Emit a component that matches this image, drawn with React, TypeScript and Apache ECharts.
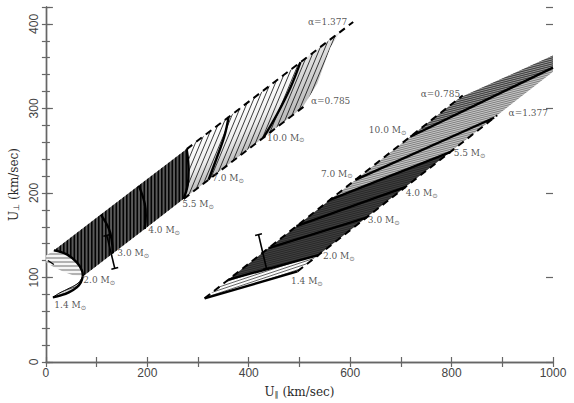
import React, { useEffect, useRef } from "react";
import * as echarts from "echarts";

// ---------- axes ----------
const X_RANGE = [0, 1000];
const Y_RANGE = [0, 420];
const X_LABEL_STEP = 200;
const Y_LABEL_STEP = 100;

// ---------- left track family [U_par, U_perp] ----------
const lEdge1377 = [[15.7, 132.0], [108.3, 174.4], [183.1, 208.7], [277.6, 251.9], [360.2, 289.8], [502.0, 354.7], [580.7, 390.9]];
const lEdge0785 = [[72.8, 101.3], [131.9, 128.5], [194.9, 157.5], [271.7, 193.0], [320.9, 215.6], [429.1, 265.5], [505.9, 300.9]];
const lTip = [[580.7, 390.9], [561.0, 372.0], [535.4, 329.4], [507.9, 303.0], [505.9, 300.9]];
const lCurlEdge = [[72.8, 101.3], [53.1, 102.5], [33.5, 107.2], [13.8, 113.1], [0.5, 117.8], [0.5, 126.1], [15.7, 132.0]];
const lM14 = [[72.8, 101.3], [68.9, 94.2], [61.0, 88.3], [45.3, 82.4], [29.5, 78.8], [13.8, 76.5]];
const lM14Inner = [[13.8, 76.5], [25.6, 81.2], [41.3, 85.9], [57.1, 90.7], [65.0, 94.2], [72.8, 101.3]];
const lM20 = [[15.7, 132.0], [41.3, 127.3], [61.0, 117.8], [70.9, 108.4], [72.8, 101.3]];
const lM30 = [[108.3, 174.4], [124.0, 158.0], [129.9, 143.9], [131.9, 128.5]];
const lM40 = [[183.1, 208.7], [194.9, 187.6], [196.9, 173.4], [194.9, 157.5]];
const lM55 = [[277.6, 251.9], [281.5, 226.6], [279.5, 208.9], [271.7, 193.0]];
const lM70 = [[360.2, 289.8], [352.4, 268.0], [338.6, 244.3], [320.9, 215.6]];
const lM100 = [[502.0, 354.7], [482.3, 324.7], [456.7, 294.0], [429.1, 265.5]];
const lDash1377 = [[277.6, 251.9], [606.0, 402.3]];
const lDash0785 = [[271.7, 193.0], [515.0, 305.1]];
const lErr = [[120.1, 149.8], [135.8, 110.8]];
const lTick = [[3.9, 120.1], [15.7, 115.4]];

// ---------- right track family ----------
const rEdge0785 = [[313.0, 75.3], [360.2, 97.5], [439.0, 134.7], [494.1, 160.7], [561.0, 192.2], [610.2, 215.4], [718.5, 266.5], [816.9, 312.9]];
const rEdge1377 = [[496.1, 107.2], [537.4, 126.5], [631.9, 170.9], [708.7, 206.9], [797.2, 248.4], [883.9, 289.0], [1000, 343.5]];
const rTop = [[816.9, 312.9], [1000, 362.5]];
const rM14 = [[313.0, 75.3], [496.1, 107.2]];
const rM20 = [[360.2, 97.5], [537.4, 126.5]];
const rM30 = [[439.0, 134.7], [631.9, 170.9]];
const rM40 = [[494.1, 160.7], [708.7, 206.9]];
const rM55 = [[561.0, 192.2], [797.2, 248.4]];
const rM70 = [[610.2, 215.4], [883.9, 289.0]];
const rM100 = [[718.5, 266.5], [1000, 348.3]];
const rDash0785 = [[313.0, 75.3], [822.0, 315.3]];
const rDash1377 = [[496.1, 107.2], [890.0, 291.9]];
const rErr = [[419.3, 150.7], [435.0, 110.6]];

// ---------- labels [text, U_par, U_perp] ----------
const labelsLeft = [
  ["α=1.377", 515.7, 401.9], ["α=0.785", 521.7, 308.9],
  ["10.0", 435.0, 265.6], ["7.0", 326.8, 217.1], ["5.5", 267.7, 186.4],
  ["4.0", 200.8, 155.7], ["3.0", 139.8, 128.5], ["2.0", 72.8, 96.6], ["1.4", 15.7, 67.0],
];
const labelsRight = [
  ["α=0.785", 738.2, 317.5], ["α=1.377", 911.4, 295.0],
  ["10.0", 635.8, 273.9], ["7.0", 541.3, 223.0], ["5.5", 803.1, 246.7],
  ["4.0", 708.7, 199.4], ["3.0", 633.9, 167.5], ["2.0", 545.3, 124.9], ["1.4", 482.3, 95.4],
];

const SANS = "'Liberation Sans', Arial, sans-serif";
const SERIF = "'DejaVu Serif', serif";
const AX = "#666";

const rev = (a: number[][]) => [...a].reverse();
const between = (edge: number[][], x0: number, x1: number) =>
  edge.filter((p) => p[0] >= x0 - 1e-6 && p[0] <= x1 + 1e-6);

function makeHatch(w: number, h: number, segs: number[][], lw: number, color: string) {
  const c = document.createElement("canvas");
  c.width = w;
  c.height = h;
  const ctx = c.getContext("2d")!;
  ctx.strokeStyle = color;
  ctx.lineWidth = lw;
  ctx.beginPath();
  for (const [x1, y1, x2, y2] of segs) {
    ctx.moveTo(x1, y1);
    ctx.lineTo(x2, y2);
  }
  ctx.stroke();
  return { image: c, repeat: "repeat", imageWidth: w, imageHeight: h };
}

function polySeries(points: number[][], fill: any, z: number, grad?: { from: number[]; to: number[]; stops: any[] }) {
  return {
    type: "custom",
    coordinateSystem: "cartesian2d",
    silent: true,
    clip: true,
    z,
    data: [[points[0][0], points[0][1]]],
    renderItem: (_p: any, api: any) => {
      const pts = points.map((p) => api.coord(p));
      let f: any = fill;
      if (grad) {
        const a = api.coord(grad.from);
        const b = api.coord(grad.to);
        f = new echarts.graphic.LinearGradient(a[0], a[1], b[0], b[1], grad.stops, true);
      }
      return { type: "polygon", shape: { points: pts }, style: { fill: f, stroke: null } };
    },
  };
}

function lineSeries(points: number[][], width: number, z: number, dashed = false, smooth: number | boolean = false) {
  return {
    type: "line",
    data: points,
    symbol: "none",
    silent: true,
    smooth,
    z,
    clip: true,
    lineStyle: { color: "#000", width, type: dashed ? [7, 5] : "solid", cap: "butt" },
  };
}

function errSeries(seg: number[][], z: number) {
  return {
    type: "custom",
    coordinateSystem: "cartesian2d",
    silent: true,
    z,
    data: [[seg[0][0], seg[0][1]]],
    renderItem: (_p: any, api: any) => {
      const a = api.coord(seg[0]);
      const b = api.coord(seg[1]);
      const dx = b[0] - a[0], dy = b[1] - a[1];
      const L = Math.hypot(dx, dy) || 1;
      const nx = (-dy / L) * 3.5, ny = (dx / L) * 3.5;
      const st = { stroke: "#000", lineWidth: 1.6 };
      return {
        type: "group",
        children: [
          { type: "line", shape: { x1: a[0], y1: a[1], x2: b[0], y2: b[1] }, style: st },
          { type: "line", shape: { x1: a[0] - nx, y1: a[1] - ny, x2: a[0] + nx, y2: a[1] + ny }, style: st },
          { type: "line", shape: { x1: b[0] - nx, y1: b[1] - ny, x2: b[0] + nx, y2: b[1] + ny }, style: st },
        ],
      };
    },
  };
}

function labelSeries(labels: any[]) {
  return {
    type: "scatter",
    symbolSize: 1,
    silent: true,
    z: 30,
    itemStyle: { color: "rgba(0,0,0,0)" },
    data: labels.map(([t, x, y]) => ({ value: [x, y], name: t })),
    label: {
      show: true,
      position: "right",
      distance: 0,
      formatter: (p: any) => (String(p.name).startsWith("α") ? `{m|${p.name}}` : `{m|${p.name} M}{s|⊙}`),
      rich: {
        m: { fontFamily: SERIF, fontSize: 9, color: "#2a2a2a", lineHeight: 12 },
        s: { fontFamily: "'DejaVu Sans', sans-serif", fontSize: 6.5, color: "#2a2a2a", lineHeight: 8, verticalAlign: "bottom" },
      },
    },
  };
}

function buildOption() {
  const leftDark = [...between(lEdge1377, 15.7, 277.6), ...lM55, ...rev(between(lEdge0785, 72.8, 271.7)), ...rev(lM20)];
  const leftLightA = [...between(lEdge1377, 277.6, 502.0), ...lM100, ...rev(between(lEdge0785, 271.7, 429.1)), ...rev(lM55)];
  const leftLightB = [...between(lEdge1377, 502.0, 580.7), ...lTip, ...rev(between(lEdge0785, 429.1, 505.9)), ...rev(lM100)];
  const leftCurl = [...lM20, ...lCurlEdge];
  const leftCrescent = [...lM14, ...lM14Inner];

  const rightWhite = [...rM14, ...between(rEdge1377, 496.1, 537.4), ...rev(rM20), ...rev(between(rEdge0785, 313.0, 360.2))];
  const rightDark = [...rM20, ...between(rEdge1377, 537.4, 797.2), ...rev(rM55), ...rev(between(rEdge0785, 360.2, 561.0))];
  const rightLight = [...rM55, ...between(rEdge1377, 797.2, 1000), ...rev(rTop), ...rev(between(rEdge0785, 561.0, 816.9))];
  const rightStrip = [...rM100, ...rev(rTop), ...rev(between(rEdge0785, 718.5, 816.9))];

  // hatching textures (style only)
  const hatchVert = makeHatch(7, 4, [[0.8, -1, 0.8, 5], [4.3, -1, 4.3, 5]], 1.6, "rgba(0,0,0,0.95)");
  const hatchLeftLight = makeHatch(5, 12, [[5, 0, 0, 12], [10, 0, 5, 12], [0, 0, -5, 12]], 0.9, "rgba(0,0,0,0.85)");
  const hatchRight = makeHatch(9, 3, [[0, 3, 9, 0], [0, 6, 9, 3], [0, 0, 9, -3]], 0.8, "rgba(0,0,0,0.75)");
  const hatchRightFine = makeHatch(8, 2, [[0, 2, 8, 0], [0, 4, 8, 2], [0, 0, 8, -2]], 0.7, "rgba(0,0,0,0.55)");
  const hatchHoriz = makeHatch(4, 4, [[-1, 2, 5, 2]], 0.8, "rgba(0,0,0,0.7)");

  const xAxisBase = {
    type: "value",
    min: X_RANGE[0],
    max: X_RANGE[1],
    interval: X_LABEL_STEP / 2,
    axisLine: { show: true, lineStyle: { color: AX, width: 1.4 } },
    axisTick: { show: true, inside: true, length: 5, lineStyle: { color: AX, width: 1.2 } },
    splitLine: { show: false },
  };
  const yAxisBase = {
    type: "value",
    min: Y_RANGE[0],
    max: Y_RANGE[1],
    interval: 20,
    axisLine: { show: true, lineStyle: { color: AX, width: 1.4 } },
    axisTick: { show: true, inside: true, length: 4, lineStyle: { color: AX, width: 1.2 } },
    splitLine: { show: false },
  };
  const yMajor = {
    type: "value",
    min: Y_RANGE[0],
    max: Y_RANGE[1],
    interval: Y_LABEL_STEP,
    axisLine: { show: false },
    axisTick: { show: true, inside: true, length: 7, lineStyle: { color: AX, width: 1.2 } },
    axisLabel: { show: false },
    splitLine: { show: false },
  };
  const subRich = { s: { fontFamily: "'DejaVu Sans', sans-serif", fontSize: 8, verticalAlign: "bottom", lineHeight: 10, color: "#2a2a2a" } };

  return {
    animation: false,
    backgroundColor: "#fff",
    grid: { left: 45, right: 21, top: 7, bottom: 41 },
    xAxis: [
      {
        ...xAxisBase,
        position: "bottom",
        axisLabel: {
          margin: 5,
          fontFamily: SANS,
          fontSize: 12,
          color: "#444",
          formatter: (v: number) => (v % X_LABEL_STEP === 0 ? String(v) : ""),
        },
        name: "U{s|∥} (km/sec)",
        nameLocation: "middle",
        nameGap: 24,
        nameTextStyle: { fontFamily: SERIF, fontSize: 12, color: "#2a2a2a", rich: subRich },
      },
      { ...xAxisBase, position: "top", axisLabel: { show: false } },
    ],
    yAxis: [
      {
        ...yAxisBase,
        position: "left",
        axisLabel: {
          rotate: 90,
          margin: 6,
          fontFamily: SANS,
          fontSize: 12,
          color: "#444",
          formatter: (v: number) => (v % Y_LABEL_STEP === 0 && v <= 400 ? String(v) : ""),
        },
        name: "U{s|⊥} (km/sec)",
        nameLocation: "middle",
        nameGap: 21,
        nameTextStyle: { fontFamily: SERIF, fontSize: 12, color: "#2a2a2a", rich: subRich },
      },
      { ...yAxisBase, position: "right", axisLabel: { show: false } },
      { ...yMajor, position: "left" },
      { ...yMajor, position: "right" },
    ],
    series: [
      // base fills
      polySeries(leftCurl, "#f6f6f6", 1),
      polySeries(leftCrescent, "#d0d0d0", 1),
      polySeries(leftDark, "#5a5a5a", 1),
      polySeries(leftLightA, "#e8e8e8", 1, {
        from: [360.2, 289.8],
        to: [404.7, 255.3],
        stops: [
          { offset: 0, color: "#ffffff" },
          { offset: 0.55, color: "#eeeeee" },
          { offset: 1, color: "#bcbcbc" },
        ],
      }),
      polySeries(leftLightB, "#cccccc", 1, {
        from: [520.0, 363.0],
        to: [560.0, 330.0],
        stops: [
          { offset: 0, color: "#e4e4e4" },
          { offset: 1, color: "#bdbdbd" },
        ],
      }),
      polySeries(rightWhite, "#fbfbfb", 1),
      polySeries(rightDark, "#404040", 1),
      polySeries(rightLight, "#cacaca", 1),
      polySeries(rightStrip, "#9c9c9c", 2),
      // hatching overlays
      polySeries(leftCurl, hatchHoriz, 3),
      polySeries(leftCrescent, hatchRight, 3),
      polySeries(leftDark, hatchVert, 3),
      polySeries(leftLightA, hatchLeftLight, 3),
      polySeries(leftLightB, hatchLeftLight, 3),
      polySeries(rightWhite, hatchRight, 3),
      polySeries(rightDark, hatchRightFine, 3),
      polySeries(rightLight, hatchRightFine, 3),
      polySeries(rightStrip, hatchRightFine, 3),
      // alpha lines (dashed)
      lineSeries(lDash1377, 2, 5, true),
      lineSeries(lDash0785, 2, 5, true),
      lineSeries(rDash0785, 2, 5, true),
      lineSeries(rDash1377, 2, 5, true),
      // mass tracks
      lineSeries(lM14, 2.4, 6, false, 0.4),
      lineSeries(lM14Inner, 1, 6, false, 0.4),
      lineSeries(lM20, 2.4, 6, false, 0.4),
      lineSeries(lM30, 2.4, 6, false, 0.4),
      lineSeries(lM40, 2.4, 6, false, 0.4),
      lineSeries(lM55, 2.4, 6, false, 0.4),
      lineSeries(lM70, 2.4, 6, false, 0.4),
      lineSeries(lM100, 2.4, 6, false, 0.4),
      lineSeries(lTick, 1.4, 6),
      lineSeries(rM14, 2.4, 6),
      lineSeries(rM20, 2.4, 6),
      lineSeries(rM30, 2.4, 6),
      lineSeries(rM40, 2.4, 6),
      lineSeries(rM55, 2.4, 6),
      lineSeries(rM70, 2.4, 6),
      lineSeries(rM100, 2.4, 6),
      // error bars
      errSeries(lErr, 8),
      errSeries(rErr, 8),
      // labels
      labelSeries(labelsLeft),
      labelSeries(labelsRight),
    ],
  };
}

export default function App() {
  const ref = useRef<HTMLDivElement>(null);
  useEffect(() => {
    document.body.style.margin = "0";
    const chart = echarts.init(ref.current!, null, { renderer: "svg" });
    chart.setOption(buildOption() as any);
    return () => chart.dispose();
  }, []);
  return <div ref={ref} style={{ width: 574, height: 403 }} />;
}
